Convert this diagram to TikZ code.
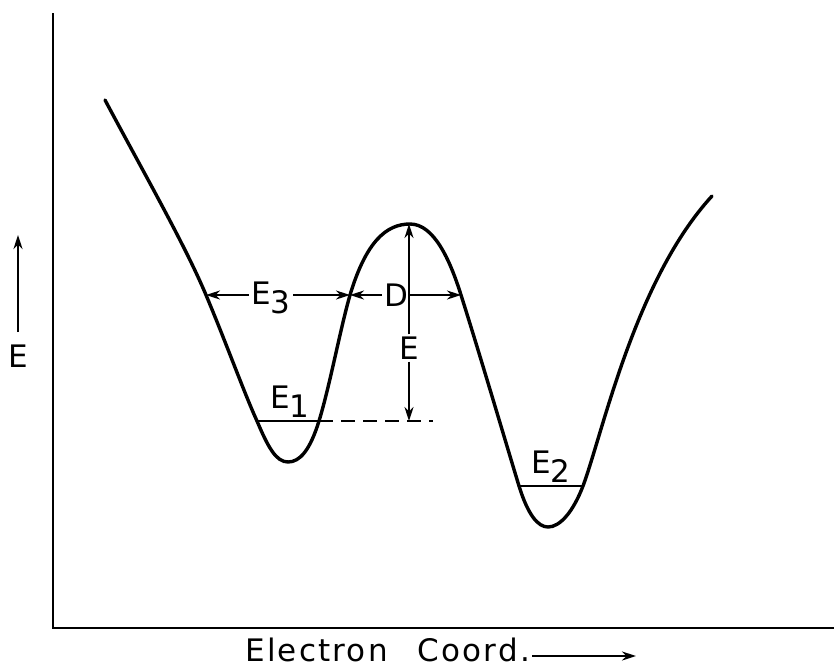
\documentclass[tikz,border=0pt]{standalone}
\usepackage{fontspec}
\setmainfont{DejaVu Sans}[LetterSpace=7]
\usetikzlibrary{arrows.meta}
\begin{document}
\begin{tikzpicture}[x=0.5pt,y=-0.5pt,
  curve/.style={line width=1.7pt,line join=round,line cap=round},
  thin line/.style={line width=1.1pt},
  arr/.style={line width=1.1pt,-{Stealth[length=7pt,width=4.5pt]}},
  lbl/.style={inner sep=1pt,font=\fontsize{15.5}{18}\selectfont}]
\useasboundingbox (0,0) rectangle (834,669);
% axes
\coordinate (ytop) at (53,13);
\coordinate (orig) at (53,628);
\coordinate (xend) at (834,628);
\draw[line width=1.3pt] (ytop) -- (orig) -- (xend);
% potential curve
\draw[curve] (105,100) .. controls (145,175) and (185,245) .. (206,295)
  .. controls (225,340) and (245,395) .. (257,421)
  .. controls (268,447) and (276,462) .. (288,462)
  .. controls (300,462) and (310,450) .. (319,421)
  .. controls (330,385) and (340,330) .. (350,295)
  .. controls (366,242) and (386,224) .. (410,224)
  .. controls (434,224) and (450,260) .. (461,295)
  .. controls (480,355) and (505,440) .. (519,486)
  .. controls (528,515) and (538,527) .. (548,527)
  .. controls (560,527) and (573,512) .. (583,486)
  .. controls (603,432) and (635,280) .. (712,196);
% level lines
\coordinate (e1l) at (257,421);
\coordinate (e1r) at (319,421);
\coordinate (dashend) at (433,421);
\draw[thin line] (e1l) -- (e1r);
\draw[thin line,dash pattern=on 7pt off 4pt] (e1r) -- (dashend);
\node[lbl] (E1) at (290,402) {E\raisebox{-0.55ex}{1}};
\coordinate (e2l) at (519,486);
\coordinate (e2r) at (583,486);
\draw[thin line] (e2l) -- (e2r);
\node[lbl] (E2) at (551,467) {E\raisebox{-0.55ex}{2}};
% E3 arrows
\coordinate (l3) at (206,295);
\coordinate (m3) at (350,295);
\coordinate (r3) at (461,295);
\node[lbl] (E3) at (271,298) {E\raisebox{-0.55ex}{3}};
\draw[arr] (E3.west|-l3) -- (l3);
\draw[arr] (E3.east|-m3) -- (m3);
% D arrows
\node[lbl] (D) at (396,295) {D};
\coordinate (vx) at (408,295);
\draw[arr] (D.west) -- (m3);
\draw[arr] (vx) -- (r3);
% E vertical
\node[lbl] (E) at (409,348) {E};
\coordinate (peak) at (409,224);
\coordinate (base) at (409,421);
\draw[arr] (E.north) -- (peak);
\draw[arr] (E.south) -- (base);
% axis labels
\node[lbl] (Ey) at (18,356) {E};
\coordinate (yarr) at (18,235);
\draw[arr,line width=1.3pt] (18,332) -- (yarr);
\node[lbl,anchor=base west] (xl) at (243,661) {Electron\hspace{15pt}Coord.};
\coordinate (xarr) at (636,656);
\draw[arr] (xl.east|-xarr) -- (xarr);
\end{tikzpicture}
\end{document}
